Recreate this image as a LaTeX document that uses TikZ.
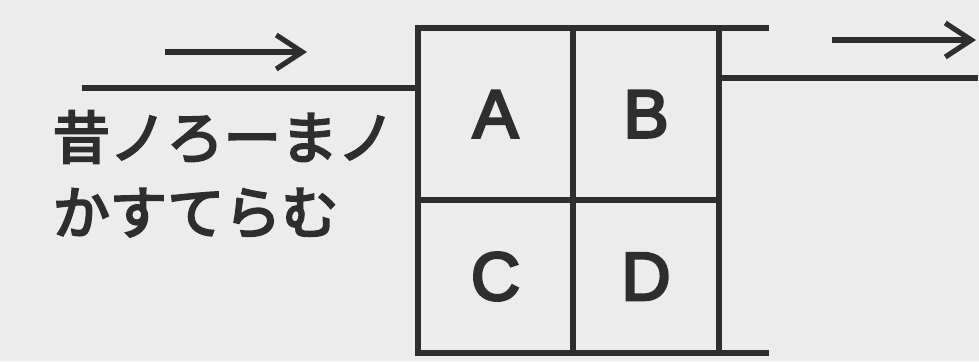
\documentclass[tikz,border=0pt]{standalone}
\usepackage{fontspec}
\setmainfont{Liberation Sans}
\newfontfamily\lettfont{Liberation Sans}[FakeBold=4]
\newfontfamily\jpfont{Noto Sans CJK JP}[FakeBold=4]
\usetikzlibrary{arrows.meta}
\definecolor{paper}{HTML}{ECECEC}
\definecolor{ink}{HTML}{2E2E2E}
\begin{document}
\begin{tikzpicture}[x=0.5pt,y=-0.5pt,
  line width=2.8pt, draw=ink,
  cell/.style={draw=ink, line width=2.8pt, inner sep=0pt, outer sep=0pt, text=ink,
    font=\lettfont\fontsize{34}{34}\selectfont},
  flow/.style={ink, line width=2.6pt, -{Straight Barb[length=13pt,width=17pt,line width=2.6pt]}},
  jp/.style={anchor=west, inner sep=0pt, text=ink, font=\jpfont\fontsize{28.5}{28.5}\selectfont}]
\fill[paper] (0,0) rectangle (979,361);
\useasboundingbox (0,0) rectangle (979,361);
% cells
\node[cell, minimum width=77.5pt, minimum height=86pt] (A) at (495.5,114) {A};
\node[cell, minimum width=73pt, minimum height=86pt] (B) at (646,114) {B};
\node[cell, minimum width=77.5pt, minimum height=76.5pt] (C) at (495.5,276.5) {\raisebox{-3pt}{C}};
\node[cell, minimum width=73pt, minimum height=76.5pt] (D) at (646,276.5) {\raisebox{-1.5pt}{D}};
% extensions of top and bottom lines
\coordinate (topend) at (769,28);
\coordinate (botend) at (769,353);
\draw[ink] (B.north east) -- (topend);
\draw[ink] (D.south east) -- (botend);
% input and output lines
\coordinate (in) at (82,88);
\coordinate (out) at (978,78);
\draw[ink] (in) -- (in -| A.west);
\draw[ink] (B.east |- out) -- (out);
% direction arrows
\coordinate (la1) at (165,52);
\coordinate (la2) at (307,52);
\coordinate (ra1) at (832,40);
\coordinate (ra2) at (976,40);
\draw[flow] (la1) -- (la2);
\draw[flow] (ra1) -- (ra2);
% text
\node[jp] (t1) at (50,137) {昔ノろーまノ};
\node[jp] (t2) at (50,213) {かすてらむ};
\end{tikzpicture}
\end{document}
